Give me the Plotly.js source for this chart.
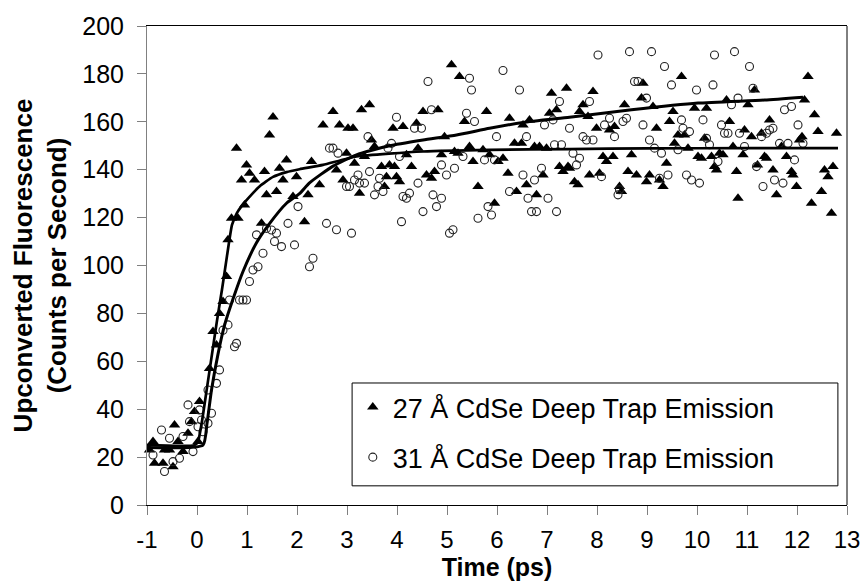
<!DOCTYPE html>
<html>
<head>
<meta charset="utf-8">
<script src="https://cdn.plot.ly/plotly-3.0.1.min.js"></script>
<style>html,body{margin:0;padding:0;background:#fff;}#chart{width:863px;height:581px;}</style>
</head>
<body>
<div id="chart"></div>
<script>
// 27 Å CdSe deep trap emission (filled triangles)
const t27 = [-0.95,-0.88,-0.85,-0.68,-0.65,-0.55,-0.48,-0.45,-0.38,-0.28,-0.18,-0.11,-0.05,0.02,0.05,0.25,0.32,0.39,0.45,0.52,0.59,0.62,0.69,0.79,0.82,0.89,0.95,0.99,1.05,1.15,1.29,1.35,1.39,1.45,1.52,1.59,1.65,1.72,1.79,1.92,1.99,
2.15,2.22,2.29,2.45,2.52,2.72,2.79,2.85,2.92,2.99,3.02,3.12,3.15,3.25,3.29,3.35,3.45,3.49,3.55,3.69,3.75,3.79,3.85,3.92,3.95,3.99,4.05,4.12,4.19,4.29,4.39,4.42,4.52,4.59,4.69,4.75,4.82,4.89,4.95,5.09,5.15,5.22,5.25,5.35,5.45,5.52,5.62,5.72,5.79,5.85,5.95,6.02,6.12,6.22,6.25,6.35,6.39,6.49,6.52,6.59,6.65,6.75,6.79,6.85,6.92,6.99,7.05,7.09,7.19,7.25,7.32,
7.39,7.42,7.45,7.55,7.62,7.65,7.72,7.82,7.85,7.92,7.99,8.05,8.12,8.19,8.25,8.32,8.35,8.45,8.49,8.55,8.62,8.69,8.79,8.89,8.92,8.99,9.05,9.12,9.19,9.25,9.32,9.39,9.45,9.52,9.55,9.62,9.69,9.75,9.82,9.95,10.02,10.09,10.15,10.19,10.29,10.35,10.39,10.45,10.52,10.59,10.65,10.72,10.79,10.82,10.92,10.95,11.02,11.09,11.15,11.21,11.29,11.35,11.39,11.45,11.52,11.59,11.69,11.79,11.89,11.92,11.99,12.05,12.1,12.15,12.22,12.29,12.35,12.42,12.49,12.55,12.62,12.69,12.72,12.79];
const y27 = [23,26.5,17.4,17.4,23,23,16,33.4,26.5,22.3,30,34.8,39,26.5,43.2,57,72.4,66.8,80,85,95.4,110.7,119.7,149,119.7,135.7,125.3,142,138.5,135.7,117.6,139.2,129.5,154.5,162,130.9,140.6,135.7,144,128.8,137.1,
118.3,129.5,143.4,133.7,158.7,164.3,139.9,158.7,135.7,146.9,157.3,157.3,142.7,130.2,165,145.5,167.1,152.4,149.7,141.3,133,137.1,142,157.3,141.3,137.1,135,158,146.2,141.3,159.4,149,164.3,137.8,136.4,139.2,165,146.2,153.8,183.8,147.6,146.9,178.9,160.1,149.7,143.4,133,148.3,164.3,146.2,126,143.4,144.8,138.5,161.5,151,130.9,151,158.7,133.7,160.8,149.7,129.5,149.7,137.8,149,163.6,171.9,165,141.3,139.2,
174,141.3,140.6,135,133.7,164.3,167.1,162.2,137.8,172.6,157.3,138.5,145.5,143.4,156.6,145.5,158,133,130.9,167.1,139.2,146.2,137.8,169.9,176.1,135,137.8,166.4,157.3,135.7,133,142.7,160.1,164.3,151,154.5,178.9,154.5,149,165.7,145.5,144.8,153.1,165.7,145.5,141.3,139.9,146.9,146.2,169.1,160.1,149.7,139.2,128.1,146.2,156.6,167.1,153.8,173.3,142,155.2,145.5,144.8,160.8,139.9,129.5,149.7,145.5,139.2,137.8,133,152.4,153.8,169.1,178.9,126,162.9,155.9,130.9,139.9,137.1,121.8,141.3,155.2];

// 31 Å CdSe deep trap emission (open circles)
const t31 = [-1.01,-0.88,-0.71,-0.65,-0.55,-0.48,-0.35,-0.28,-0.18,-0.15,-0.08,0.02,0.05,0.09,0.12,0.22,0.22,0.29,0.39,0.45,0.52,0.62,0.65,0.75,0.79,0.85,0.92,0.99,1.05,1.12,1.19,1.22,1.32,1.39,1.49,1.55,1.59,1.69,1.82,1.95,2.02,
2.25,2.32,2.59,2.65,2.72,2.79,2.82,2.99,3.05,3.09,3.15,3.22,3.25,3.35,3.42,3.45,3.55,3.62,3.65,3.72,3.82,3.89,3.99,4.05,4.09,4.12,4.19,4.25,4.35,4.42,4.49,4.52,4.62,4.69,4.72,4.79,4.89,4.89,4.99,5.05,5.12,5.15,5.32,5.39,5.45,5.49,5.55,5.62,5.75,5.82,5.89,5.95,5.99,6.12,6.25,6.45,6.52,6.59,6.62,6.69,6.75,6.79,6.89,6.95,7.02,7.12,7.15,7.19,7.25,7.29,
7.45,7.52,7.59,7.65,7.72,7.79,7.85,7.92,8.02,8.09,8.15,8.25,8.35,8.42,8.45,8.52,8.59,8.65,8.75,8.82,8.92,8.99,9.05,9.09,9.15,9.25,9.29,9.35,9.42,9.49,9.62,9.69,9.72,9.79,9.85,9.89,9.99,10.05,10.12,10.19,10.25,10.32,10.35,10.42,10.49,10.55,10.62,10.69,10.75,10.82,10.85,10.95,11.05,11.12,11.19,11.29,11.32,11.39,11.45,11.52,11.55,11.65,11.72,11.75,11.82,11.89,11.95,12.02,12.12];
const y31 = [24.4,20.9,31.3,14,27.9,18.1,19.5,28.6,41.8,34.8,22.3,32.7,39.7,35.5,30.6,34.1,48,38.3,50.8,56.4,73,75.2,85.6,66.1,67.5,85.6,85.6,85.6,93.3,98.1,112.8,99.5,105.1,115.5,114.8,110,113.5,107.9,117.6,108.6,124.6,
99.5,103,117.6,149,149,114.9,146.9,133,133,113.5,135.7,137.8,134.4,134.4,153.8,139.2,129.5,133,136.4,130.9,149,151,161.9,145.5,118.3,128.8,128.1,130.2,157.3,134.4,157.3,122.5,176.8,165,129.5,124.6,128.1,142,137.8,113.5,114.9,140.6,145.5,163.6,178.2,173.3,160.1,119.7,144.1,124.6,121.1,144.1,153.8,181.4,130.9,173.3,137.8,153.8,128.1,122.5,135.7,122.5,140.6,158.7,128.1,160.8,150.4,122.5,168.5,150.4,
157.3,146.9,142,144.8,153.8,152.4,168.5,152.4,187.9,137.1,158.7,161.5,153.8,129.5,131.6,160.1,161.5,189.3,176.8,176.8,158.7,169.9,152.4,189.3,149,136.4,146.9,183.1,137.8,175.4,148.3,160.8,157.3,137.8,155.9,135.7,173.3,134.4,160.8,153.1,150.4,175.4,187.9,143.4,158.7,155.2,155.2,167.1,189.3,169.9,155.2,149.7,183.1,174,141.3,153.8,133,155.2,156.6,157.3,135.7,151,134.4,165,151,166.4,144.1,158.7,151];

// Fitted curves
const fit27T = [-1,-0.05,0.02,0.1,0.2,0.3,0.4,0.5,0.6,0.65,0.7,0.8,0.9,1.0,1.25,1.52,1.79,2.05,2.52,3.19,4.52,5.85,7.45,9,11,12.82];
const fit27Y = [25,25,26.5,35,49,63,77,90,104,111,117,122,125,127.5,133,137,139,140.2,142,145.5,147.6,148.3,148.6,148.9,149,149];
const fit31T = [-1,0.12,0.2,0.29,0.42,0.55,0.72,0.92,1.19,1.45,1.79,2.05,2.25,2.72,3.19,3.85,4.52,5.19,5.85,6.52,7.45,8.69,10.02,11.35,12.12];
const fit31Y = [24,25,34,48,63,75,86,97.5,109.5,117.5,126,130,134.5,141.5,146.2,150,152.4,154.5,157.3,159.7,161.9,165,167.8,169.1,170.3];

// Tick labels
const xTickVals = [-1,0,1,2,3,4,5,6,7,8,9,10,11,12,13];
const xTickText = ['-1','0','1','2','3','4','5','6','7','8','9','10','11','12','13'];

const names = ['27 Å CdSe Deep Trap Emission','31 Å CdSe Deep Trap Emission'];

const traces = [
  {x:t27, y:y27, mode:'markers', type:'scatter', name:names[0], legendgroup:'a', cliponaxis:false,
   marker:{symbol:'triangle-up', size:10, color:'black', line:{width:0}}},
  {x:t31, y:y31, mode:'markers', type:'scatter', name:names[1], legendgroup:'b', cliponaxis:false,
   marker:{symbol:'circle-open', size:8, color:'#222', line:{width:1.1, color:'#222'}}},
  {x:fit27T, y:fit27Y, mode:'lines', type:'scatter', showlegend:false, hoverinfo:'skip',
   line:{color:'black', width:2.7, shape:'spline', smoothing:0.5}},
  {x:fit31T, y:fit31Y, mode:'lines', type:'scatter', showlegend:false, hoverinfo:'skip',
   line:{color:'black', width:3, shape:'spline', smoothing:0.5}}
];

const layout = {
  width:863, height:581,
  margin:{l:147, r:16, t:26, b:76},
  paper_bgcolor:'white', plot_bgcolor:'white',
  font:{family:'Arial, "Liberation Sans", sans-serif', color:'black', size:24},
  showlegend:true,
  xaxis:{range:[-1,13], tickmode:'array', tickvals:xTickVals, ticktext:xTickText,
    ticks:'outside', ticklen:9, tickwidth:1, tickcolor:'#808080',
    showline:true, linecolor:'black', linewidth:1, mirror:true, showgrid:false, zeroline:false,
    tickfont:{size:24}, ticklabelstandoff:4,
    title:{text:'Time (ps)', font:{size:25, weight:'bold'}, standoff:8}},
  yaxis:{range:[0,200], tick0:0, dtick:20, ticks:'outside', ticklen:9, tickwidth:1, tickcolor:'#808080',
    showline:true, linecolor:'#808080', linewidth:1, showgrid:false, zeroline:false,
    tickfont:{size:25}, ticklabelstandoff:8,
    title:{text:'Upconverted Fluorescence<br>(Counts per Second)', font:{size:26, weight:'bold'}, standoff:8}},
  legend:{x:0.294, y:0.2547, xanchor:'left', yanchor:'top', borderwidth:0,
    bgcolor:'rgba(0,0,0,0)', font:{size:27}, tracegroupgap:12},
  shapes:[
    {type:'line', xref:'paper', yref:'paper', x0:1, x1:1, y0:0, y1:1, line:{color:'black', width:1}},
    {type:'rect', xref:'paper', yref:'paper', x0:0.293, x1:0.987, y0:0.04, y1:0.2547,
     fillcolor:'white', layer:'above', line:{color:'black', width:1}}
  ]
};

Plotly.newPlot('chart', traces, layout, {displayModeBar:false, staticPlot:true});
</script>
</body>
</html>
